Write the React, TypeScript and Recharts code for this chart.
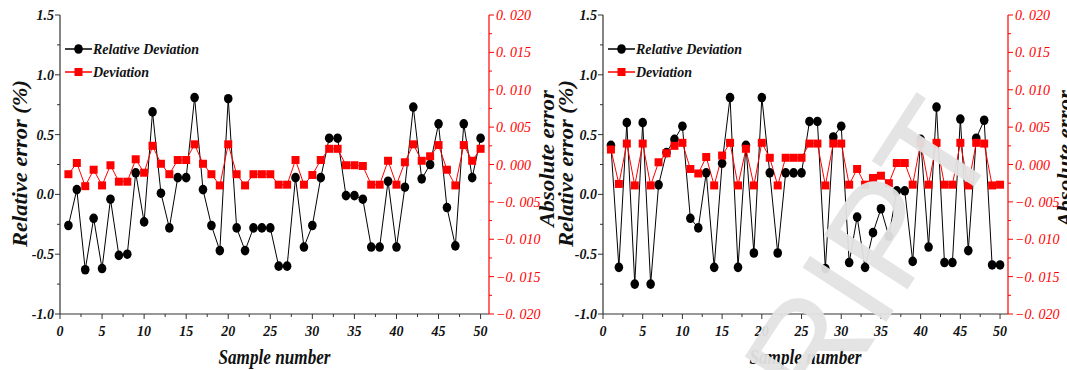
import { LineChart, Line, XAxis, YAxis, Legend } from "recharts";

const samples = Array.from({ length: 50 }, (_, i) => i + 1);

// left panel
const leftRelative = [
  -0.26, 0.04, -0.63, -0.2, -0.62, -0.04, -0.51, -0.5, 0.18, -0.23,
  0.69, 0.01, -0.28, 0.14, 0.14, 0.81, 0.04, -0.26, -0.47, 0.8,
  -0.28, -0.47, -0.28, -0.28, -0.28, -0.6, -0.6, 0.14, -0.44, -0.26,
  0.14, 0.47, 0.47, -0.01, -0.01, -0.04, -0.44, -0.44, 0.11, -0.44,
  0.06, 0.73, 0.13, 0.25, 0.59, -0.11, -0.43, 0.59, 0.14, 0.47,
];
const leftAbsolute = [
  -0.0013, 0.0002, -0.0029, -0.0007, -0.0028, -0.0001, -0.0023, -0.0023, 0.0007, -0.0011,
  0.0025, 0.0001, -0.0013, 0.0006, 0.0006, 0.0027, 0.0001, -0.0013, -0.0028, 0.0027,
  -0.0013, -0.0028, -0.0013, -0.0013, -0.0013, -0.0027, -0.0027, 0.0006, -0.0027, -0.0014,
  0.0006, 0.0021, 0.0021, -0.0001, -0.0001, -0.0002, -0.0027, -0.0027, 0.0005, -0.0027,
  0.0003, 0.0027, 0.0005, 0.0011, 0.0026, -0.0007, -0.0028, 0.0026, 0.0005, 0.0021,
];

// right panel
const rightRelative = [
  0.41, -0.61, 0.6, -0.75, 0.6, -0.75, 0.08, 0.35, 0.46, 0.57,
  -0.2, -0.28, 0.18, -0.61, 0.26, 0.81, -0.61, 0.41, -0.49, 0.81,
  0.18, -0.49, 0.18, 0.18, 0.18, 0.61, 0.61, -0.62, 0.48, 0.57,
  -0.57, -0.19, -0.61, -0.32, -0.12, -0.35, 0.03, 0.03, -0.56, 0.46,
  -0.44, 0.73, -0.57, -0.57, 0.63, -0.47, 0.47, 0.62, -0.59, -0.59,
];
const rightAbsolute = [
  0.002, -0.0026, 0.0028, -0.0028, 0.0028, -0.0028, 0.0003, 0.0015, 0.0025, 0.0029,
  -0.0006, -0.0012, 0.001, -0.0028, 0.0012, 0.0029, -0.0028, 0.0021, -0.0028, 0.0029,
  0.0009, -0.0028, 0.0009, 0.0009, 0.0009, 0.0028, 0.0028, -0.0028, 0.0028, 0.0028,
  -0.0027, -0.0006, -0.0027, -0.0018, -0.0015, -0.0025, 0.0002, 0.0002, -0.0027, 0.0029,
  -0.0027, 0.0029, -0.0027, -0.0027, 0.0029, -0.0028, 0.0029, 0.0028, -0.0028, -0.0027,
];

const xTicks = [0, 2.5, 5, 7.5, 10, 12.5, 15, 17.5, 20, 22.5, 25, 27.5, 30, 32.5, 35, 37.5, 40, 42.5, 45, 47.5, 50];
const relTicks = [-1, -0.75, -0.5, -0.25, 0, 0.25, 0.5, 0.75, 1, 1.25, 1.5];
const absTicks = [-0.02, -0.0175, -0.015, -0.0125, -0.01, -0.0075, -0.005, -0.0025, 0, 0.0025, 0.005, 0.0075, 0.01, 0.0125, 0.015, 0.0175, 0.02];

const SERIF = '"Liberation Serif", "Times New Roman", serif';
const RED = "#ff0000";

const isMajor = (v: number, step: number) => Math.abs(v / step - Math.round(v / step)) < 1e-6;

const fmtAbs = (v: number) => {
  const s = Math.abs(v).toFixed(3).replace(".", ". ");
  return v < 0 ? "\u2212" + s : s;
};

function BottomTick({ x, y, payload }: any) {
  const major = isMajor(payload.value, 5);
  return (
    <g>
      <line x1={x} x2={x} y1={y} y2={y + (major ? 5 : 3)} stroke="#333" />
      {major && (
        <text x={x} y={y + 22} textAnchor="middle" fontFamily={SERIF} fontSize={14}
          fontStyle="italic" fontWeight="bold" fill="#111">
          {payload.value}
        </text>
      )}
    </g>
  );
}

function TopTick({ x, y }: any) {
  return <line x1={x} x2={x} y1={y} y2={y + 3} stroke="#555" />;
}

function LeftTick({ x, y, payload }: any) {
  const major = isMajor(payload.value, 0.5);
  return (
    <g>
      <line x1={x} x2={x - (major ? 5 : 3)} y1={y} y2={y} stroke="#333" />
      {major && (
        <text x={x - 6} y={y + 5} textAnchor="end" fontFamily={SERIF} fontSize={14}
          fontStyle="italic" fontWeight="bold" fill="#111">
          {payload.value.toFixed(1)}
        </text>
      )}
    </g>
  );
}

function RightTick({ x, y, payload }: any) {
  const major = isMajor(payload.value, 0.005);
  return (
    <g>
      <line x1={x} x2={x + (major ? 5 : 3)} y1={y} y2={y} stroke={RED} />
      {major && (
        <text x={x + 7} y={y + 5} textAnchor="start" fontFamily={SERIF} fontSize={14}
          fontStyle="italic" fill={RED}>
          {fmtAbs(payload.value)}
        </text>
      )}
    </g>
  );
}

function Dot({ cx, cy }: any) {
  return <ellipse cx={cx} cy={cy} rx={4.3} ry={4.8} fill="#000" />;
}

function Square({ cx, cy }: any) {
  return <rect x={cx - 4} y={cy - 4} width={8} height={8} fill={RED} />;
}

function LegendBox() {
  const txt = { fontFamily: SERIF, fontSize: 14, fontStyle: "italic", fontWeight: "bold" } as const;
  return (
    <svg width={150} height={48}>
      <line x1={2} x2={29} y1={11} y2={11} stroke="#000" strokeWidth={1.5} />
      <ellipse cx={15.5} cy={11} rx={4.3} ry={4.8} fill="#000" />
      <text x={30} y={16} {...txt} fill="#111">Relative Deviation</text>
      <line x1={2} x2={29} y1={34} y2={34} stroke={RED} strokeWidth={1.5} />
      <rect x={11.5} y={30} width={8} height={8} fill={RED} />
      <text x={30} y={39} {...txt} fill="#111">Deviation</text>
    </svg>
  );
}

function titleText(x: number, y: number, value: string, len: number, rotate: number) {
  return (
    <text x={x} y={y} textAnchor="middle" dominantBaseline="central"
      transform={rotate ? `rotate(${rotate} ${x} ${y})` : undefined}
      fontFamily={SERIF} fontSize={22} fontStyle="italic" fontWeight="bold" fill="#111"
      textLength={len} lengthAdjust="spacingAndGlyphs">
      {value}
    </text>
  );
}

type PanelProps = {
  rel: number[];
  abs: number[];
  left: number;
  width: number;
  marginLeft: number;
  marginRight: number;
  leftTitleGap: number;
  rightTitleGap: number;
};

function Panel({ rel, abs, left, width, marginLeft, marginRight, leftTitleGap, rightTitleGap }: PanelProps) {
  const data = samples.map((s, i) => ({ sample: s, rel: rel[i], abs: abs[i] }));
  return (
    <div style={{ position: "absolute", left, top: 0 }}>
      <LineChart width={width} height={370} data={data}
        margin={{ top: 15, right: marginRight, bottom: 26, left: marginLeft }}>
        <XAxis dataKey="sample" type="number" domain={[0, 51]} ticks={xTicks} interval={0}
          height={30} tickSize={0} tickMargin={0} tickLine={false} tick={<BottomTick />}
          axisLine={{ stroke: "#333", strokeWidth: 1.2 }}
          label={({ viewBox }: any) =>
            titleText(viewBox.x + viewBox.width / 2, viewBox.y + 42, "Sample number", 112, 0)} />
        <XAxis xAxisId="top" orientation="top" dataKey="sample" type="number" domain={[0, 51]}
          ticks={xTicks} interval={0} height={0} tickSize={0} tickMargin={0} tickLine={false}
          tick={<TopTick />} axisLine={{ stroke: RED, strokeWidth: 1.2 }} />
        <YAxis yAxisId="rel" type="number" domain={[-1, 1.5]} ticks={relTicks} interval={0}
          width={50} tickSize={0} tickMargin={0} tickLine={false} tick={<LeftTick />}
          axisLine={{ stroke: "#333", strokeWidth: 1.2 }}
          label={({ viewBox }: any) =>
            titleText(viewBox.x + viewBox.width - leftTitleGap, viewBox.y + viewBox.height / 2 - 1,
              "Relative error (%)", 167, -90)} />
        <YAxis yAxisId="abs" orientation="right" type="number" domain={[-0.02, 0.02]} ticks={absTicks}
          interval={0} width={45} tickSize={0} tickMargin={0} tickLine={false} tick={<RightTick />}
          axisLine={{ stroke: RED, strokeWidth: 1.2 }}
          label={({ viewBox }: any) =>
            titleText(viewBox.x + rightTitleGap, viewBox.y + viewBox.height / 2 - 6,
              "Absolute error", 137, -90)} />
        <Legend layout="vertical" verticalAlign="middle" align="center" content={<LegendBox />}
          wrapperStyle={{ position: "absolute", left: marginLeft + 50 + 3, top: 38, width: 150 }} />
        <Line yAxisId="rel" dataKey="rel" name="Relative Deviation" stroke="#000" strokeWidth={1}
          dot={<Dot />} activeDot={false} isAnimationActive={false} />
        <Line yAxisId="abs" dataKey="abs" name="Deviation" stroke={RED} strokeWidth={1}
          dot={<Square />} activeDot={false} isAnimationActive={false} />
      </LineChart>
    </div>
  );
}

export default function App() {
  return (
    <div style={{ position: "absolute", left: 0, top: 0, width: 1067, height: 370, overflow: "hidden", background: "#fff" }}>
      <Panel rel={leftRelative} abs={leftAbsolute} left={0} width={560}
        marginLeft={10} marginRight={26} leftTitleGap={41} rightTitleGap={57} />
      <Panel rel={rightRelative} abs={rightAbsolute} left={540} width={527}
        marginLeft={13} marginRight={14} leftTitleGap={38} rightTitleGap={56} />
      <svg width={1067} height={370} style={{ position: "absolute", left: 0, top: 0, pointerEvents: "none" }}>
        <text x={870} y={255} textAnchor="middle" dominantBaseline="central"
          transform="rotate(-57 870 255)" fontFamily='"Liberation Sans", Arial, sans-serif'
          fontSize={145} fill="#e3e3e3" opacity={0.95}>
          RIPT
        </text>
      </svg>
    </div>
  );
}
